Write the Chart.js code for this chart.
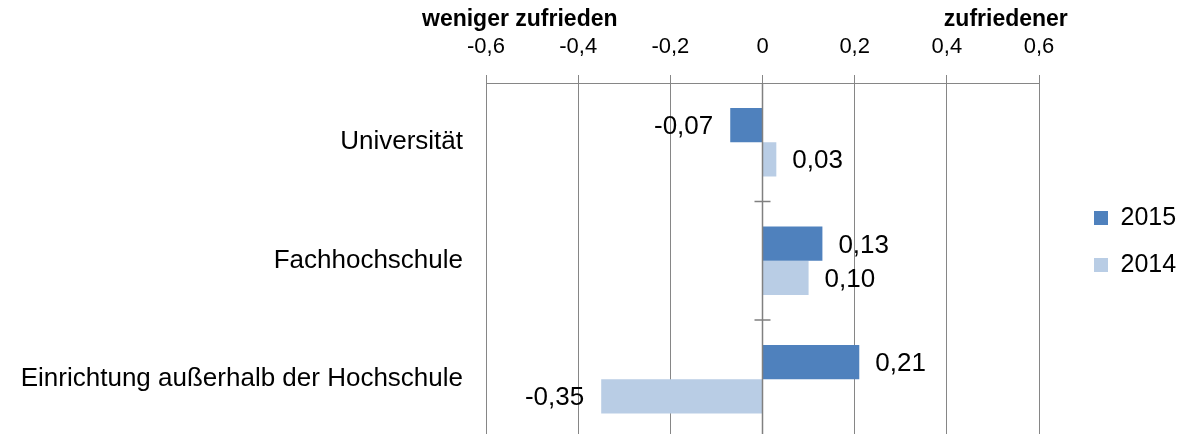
<!DOCTYPE html>
<html>
<head>
<meta charset="utf-8">
<script src="https://cdn.jsdelivr.net/npm/chart.js@4"></script>
<style>
  html, body { margin: 0; padding: 0; background: #fff; overflow: hidden; }
  #wrap { position: relative; width: 1184px; height: 440px; }
</style>
</head>
<body>
<div id="wrap"><canvas id="c"></canvas></div>
<script>
const categories = ['Universität', 'Fachhochschule', 'Einrichtung außerhalb der Hochschule'];
const seriesNames = ['2015', '2014'];
const values2015 = [-0.07, 0.13, 0.21];
const values2014 = [0.03, 0.10, -0.35];
const xTickLabels = ['-0,6', '-0,4', '-0,2', '0', '0,2', '0,4', '0,6'];
const axisEndLabels = ['weniger zufrieden', 'zufriedener'];

const FONT = "'Liberation Sans', Arial, sans-serif";
const GRID = '#868686';

const fmt = v => v.toFixed(2).replace('.', ',');

const decorPlugin = {
  id: 'decor',
  afterLayout(chart) {
    const lg = chart.legend;
    if (!lg) return;
    const left = 1072, top = 150, bottom = 333;
    const w = lg.width;
    lg.left = left; lg.right = left + w; lg.width = w;
    lg.top = top; lg.bottom = bottom; lg.height = bottom - top;
  },
  afterDatasetsDraw(chart) {
    const ctx = chart.ctx;
    const xs = chart.scales.x, ys = chart.scales.y;
    const ca = chart.chartArea;
    const x0 = xs.getPixelForValue(0);
    ctx.save();
    ctx.strokeStyle = '#808080';
    ctx.lineWidth = 1.5;
    ctx.beginPath();
    ctx.moveTo(x0, ca.top);
    ctx.lineTo(x0, ca.bottom);
    for (let i = 0; i < categories.length - 1; i++) {
      const y = (ys.getPixelForValue(i) + ys.getPixelForValue(i + 1)) / 2;
      ctx.moveTo(x0 - 8, y);
      ctx.lineTo(x0 + 8, y);
    }
    ctx.stroke();
    ctx.fillStyle = '#000';
    ctx.font = '26px ' + FONT;
    ctx.textBaseline = 'middle';
    chart.data.datasets.forEach((ds, di) => {
      const meta = chart.getDatasetMeta(di);
      meta.data.forEach((bar, i) => {
        const v = ds.data[i];
        if (v >= 0) {
          ctx.textAlign = 'left';
          ctx.fillText(fmt(v), bar.x + 16, bar.y + 2);
        } else {
          ctx.textAlign = 'right';
          ctx.fillText(fmt(v), bar.x - 17, bar.y + 2);
        }
      });
    });
    ctx.font = 'bold 23px ' + FONT;
    ctx.textAlign = 'left';
    ctx.fillText(axisEndLabels[0], xs.getPixelForValue(-0.6) - 64, 20);
    ctx.fillText(axisEndLabels[1], xs.getPixelForValue(0.4) - 3, 20);
    ctx.restore();
  }
};

new Chart(document.getElementById('c'), {
  type: 'bar',
  data: {
    labels: categories,
    datasets: [
      { label: seriesNames[0], data: values2015, backgroundColor: '#4F81BD', borderWidth: 0 },
      { label: seriesNames[1], data: values2014, backgroundColor: '#B9CDE5', borderWidth: 0 }
    ]
  },
  options: {
    indexAxis: 'y',
    responsive: true,
    maintainAspectRatio: false,
    animation: false,
    datasets: { bar: { categoryPercentage: 0.576, barPercentage: 1.0 } },
    layout: { padding: { left: 0, right: 145, top: 34, bottom: 1.5 } },
    scales: {
      x: {
        position: 'top',
        min: -0.6,
        max: 0.6,
        ticks: {
          stepSize: 0.2,
          color: '#000',
          padding: 15,
          font: { family: FONT, size: 22 },
          callback: (value, index) => xTickLabels[index]
        },
        grid: { color: GRID, lineWidth: 1, drawTicks: true, tickLength: 8, tickColor: GRID },
        border: { display: true, color: GRID, width: 1 },
        afterFit: (scale) => { scale.height = 49; }
      },
      y: {
        position: 'left',
        grid: { display: false },
        border: { display: false },
        ticks: { color: '#000', padding: 15, font: { family: FONT, size: 26 } },
        afterFit: (scale) => { scale.width = 486; scale.paddingTop = 0; scale.paddingBottom = 0; }
      }
    },
    plugins: {
      legend: {
        position: 'chartArea',
        labels: {
          color: '#000',
          boxWidth: 14,
          boxHeight: 14,
          padding: 22,
          font: { family: FONT, size: 25 }
        }
      },
      tooltip: { enabled: false }
    }
  },
  plugins: [decorPlugin]
});
</script>
</body>
</html>
